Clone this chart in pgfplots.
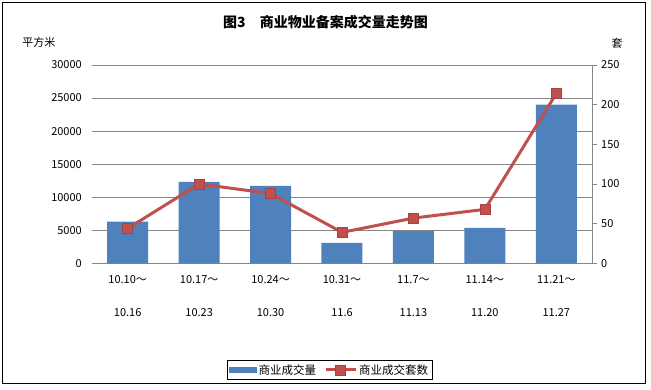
\documentclass[border=0pt]{standalone}
\usepackage{fontspec}
\usepackage{pgfplots}
\pgfplotsset{compat=1.18}
\setmainfont{Noto Sans CJK SC}
\definecolor{barblue}{HTML}{4F81BD}
\definecolor{linered}{HTML}{C0504D}
\definecolor{gridgray}{HTML}{868686}
\pgfplotsset{longline legend/.style={legend image code/.code={\draw[mark repeat=2,mark phase=2,##1] plot coordinates {(0pt,0pt)(15pt,0pt)(30pt,0pt)};}}}
\begin{document}
\begin{tikzpicture}
\begin{axis}[
  scale only axis, width=500pt, height=198.3pt,
  xmin=-0.5, xmax=6.5, ymin=0, ymax=30000,
  xtick={0,...,6},
  xticklabels={{10.10～\\10.16},{10.17～\\10.23},{10.24～\\10.30},{10.31～\\11.6},{11.7～\\11.13},{11.14～\\11.20},{11.21～\\11.27}},
  xticklabel style={align=center, font=\fontsize{11}{33}\selectfont, inner sep=0pt, yshift=-12pt},
  axis x line*=bottom, axis y line*=left,
  y axis line style={draw=none},
  x axis line style={gridgray, line width=0.8pt},
  major tick length=0pt,
  ytick={0,5000,...,30000},
  ymajorgrids, grid style={gridgray, line width=0.8pt},
  yticklabel style={font=\fontsize{11}{13}\selectfont, inner sep=0pt, xshift=-10pt},
  /pgf/number format/assume math mode=true,
  scaled y ticks=false,
  yticklabel={\pgfmathprintnumber[fixed,1000 sep={}]{\tick}},
]
\addplot[ybar, bar width=41pt, fill=barblue, draw=none] coordinates {
(0,6300) (1,12300) (2,11700) (3,3100) (4,4850) (5,5350) (6,24000)};
\end{axis}
\begin{axis}[
  scale only axis, width=500pt, height=198.3pt,
  xmin=-0.5, xmax=6.5, ymin=0, ymax=250,
  axis x line=none, axis y line*=right,
  ytick={0,50,...,250},
  y axis line style={gridgray, line width=0.8pt},
  ytick style={gridgray, line width=0.8pt},
  tick align=outside, major tick length=5pt,
  yticklabel style={font=\fontsize{11}{13}\selectfont, inner sep=0pt, xshift=4pt},
  /pgf/number format/assume math mode=true,
  legend style={at={(0.475,-0.538)}, anchor=center, draw=black, line width=0.6pt,
    font=\fontsize{11.5}{13}\selectfont, legend columns=2, inner sep=2pt,
    /tikz/every even column/.append style={column sep=6pt}},
  legend cell align=left,
]
\addlegendimage{legend image code/.code={\fill[barblue] (0pt,-2.5pt) rectangle (27pt,2.5pt);}}
\addlegendentry{商业成交量}
\addplot[linered, line width=3pt, mark=square*, mark size=5pt,
  mark options={fill=linered, draw=linered!85!black, line width=0.6pt},
  longline legend]
  coordinates {(0,44) (1,100) (2,88) (3,39) (4,57) (5,68) (6,214)};
\addlegendentry{商业成交套数}
\end{axis}
\path ([shift={(-92pt,-125.7pt)}]current axis.south west) rectangle ([shift={(559pt,263.3pt)}]current axis.south west);
\draw[black, line width=0.8pt] ([shift={(-90pt,-119.7pt)}]current axis.south west) rectangle ([shift={(553pt,261.3pt)}]current axis.south west);
\node[font=\fontsize{14}{16}\selectfont\bfseries] at ([shift={(233.5pt,241.3pt)}]current axis.south west) {图3\hspace{1em}商业物业备案成交量走势图};
\node[font=\fontsize{11}{13}\selectfont] at ([shift={(-53pt,220.6pt)}]current axis.south west) {平方米};
\node[font=\fontsize{11}{13}\selectfont] at ([shift={(525pt,219.8pt)}]current axis.south west) {套};
\end{tikzpicture}
\end{document}
